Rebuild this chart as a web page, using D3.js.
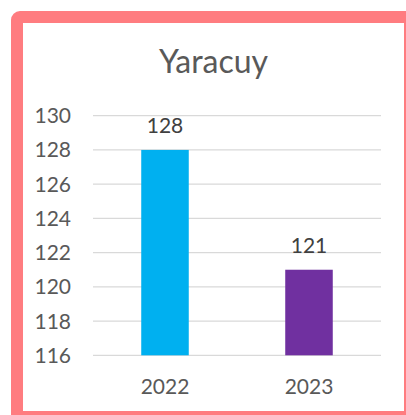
<!DOCTYPE html>
<html>
<head>
<meta charset="utf-8">
<script src="https://cdn.jsdelivr.net/npm/d3@7"></script>
<style>
  html, body { margin: 0; padding: 0; background: #fff; }
  svg { display: block; font-family: Lato, "Open Sans", sans-serif; }
</style>
</head>
<body>
<svg id="chart" width="406" height="415"></svg>
<script>
// Chart data
const years = ["2022", "2023"];
const values = [128, 121];
const barColors = ["#00B0F0", "#7030A0"];
const yTicks = [116, 118, 120, 122, 124, 126, 128, 130];
const title = "Yaracuy";

const svg = d3.select("#chart");

// Frame (thick pink border, cut off at right/bottom)
svg.append("rect")
  .attr("x", 17).attr("y", 17)
  .attr("width", 393).attr("height", 400)
  .attr("rx", 3)
  .attr("fill", "#fff")
  .attr("stroke", "#FF7C80")
  .attr("stroke-width", 12);

// Plot area
const plot = { left: 93, right: 381, top: 115.7, bottom: 355.3 };

const x = d3.scaleBand()
  .domain(years)
  .range([plot.left, plot.right])
  .paddingInner(0.67)
  .paddingOuter(0.335);

const y = d3.scaleLinear()
  .domain([116, 130])
  .range([plot.bottom, plot.top]);

// Gridlines
svg.append("g")
  .selectAll("line")
  .data(yTicks)
  .enter()
  .append("line")
  .attr("x1", plot.left)
  .attr("x2", plot.right)
  .attr("y1", (d) => y(d))
  .attr("y2", (d) => y(d))
  .attr("stroke", "#d9d9d9")
  .attr("stroke-width", 1.3);

// Y tick labels
svg.append("g")
  .selectAll("text")
  .data(yTicks)
  .enter()
  .append("text")
  .attr("x", 71)
  .attr("y", (d) => y(d))
  .attr("dy", "0.36em")
  .attr("text-anchor", "end")
  .attr("font-size", 21)
  .attr("fill", "#595959")
  .text((d) => d);

// Bars
svg.append("g")
  .selectAll("rect")
  .data(values)
  .enter()
  .append("rect")
  .attr("x", (d, i) => x(years[i]))
  .attr("width", x.bandwidth())
  .attr("y", (d) => y(d))
  .attr("height", (d) => y(116) - y(d))
  .attr("fill", (d, i) => barColors[i]);

// Value labels
svg.append("g")
  .selectAll("text")
  .data(values)
  .enter()
  .append("text")
  .attr("x", (d, i) => x(years[i]) + x.bandwidth() / 2)
  .attr("y", (d) => y(d) - 17)
  .attr("text-anchor", "middle")
  .attr("font-size", 21)
  .attr("fill", "#404040")
  .text((d) => d);

// X labels
svg.append("g")
  .selectAll("text")
  .data(years)
  .enter()
  .append("text")
  .attr("x", (d) => x(d) + x.bandwidth() / 2)
  .attr("y", 394)
  .attr("text-anchor", "middle")
  .attr("font-size", 21)
  .attr("fill", "#595959")
  .text((d) => d);

// Title
svg.append("text")
  .attr("x", 213.5)
  .attr("y", 73)
  .attr("text-anchor", "middle")
  .attr("font-size", 32)
  .attr("fill", "#595959")
  .text(title);
</script>
</body>
</html>
